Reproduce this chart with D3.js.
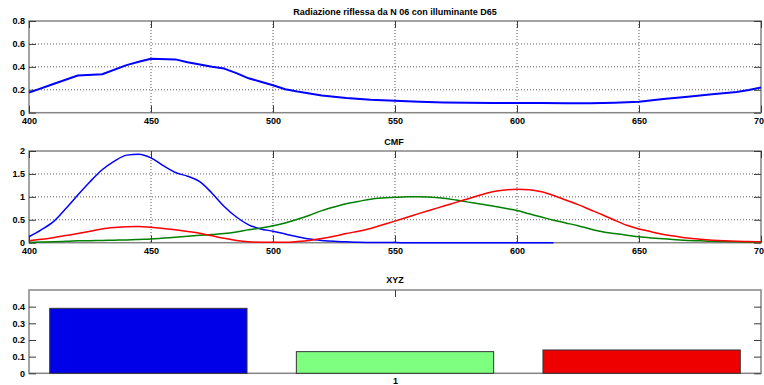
<!DOCTYPE html>
<html>
<head>
<meta charset="utf-8">
<script src="https://cdn.jsdelivr.net/npm/d3@7"></script>
<style>
  body { margin: 0; background: #fff; }
  svg { display: block; }
  text { font-family: "Liberation Sans", Arial, sans-serif; font-weight: bold; font-size: 9px; fill: #000; }
</style>
</head>
<body>
<svg id="chart" width="764" height="385"></svg>
<script>
// Reflected radiance of sample N 06 under D65
const reflWl  = [400, 410, 420, 430, 440, 445, 450, 460, 465, 470, 475, 480, 485, 490, 495, 500, 505, 510, 520, 530, 540, 550, 560, 570, 580, 590, 600, 610, 620, 630, 640, 650, 660, 670, 680, 690, 695, 700];
const reflVal = [0.175, 0.25, 0.325, 0.335, 0.415, 0.445, 0.47, 0.465, 0.44, 0.42, 0.40, 0.385, 0.345, 0.30, 0.27, 0.24, 0.205, 0.185, 0.15, 0.128, 0.114, 0.105, 0.096, 0.09, 0.087, 0.085, 0.085, 0.085, 0.082, 0.082, 0.087, 0.096, 0.12, 0.14, 0.16, 0.18, 0.198, 0.22];

// Colour matching functions
const cmfWl = [400, 405, 410, 415, 420, 425, 430, 435, 440, 445, 450, 455, 460, 465, 470, 475, 480, 485, 490, 495, 500, 505, 510, 515, 520, 525, 530, 535, 540, 545, 550, 555, 560, 565, 570, 575, 580, 585, 590, 595, 600, 605, 610, 615, 620, 625, 630, 635, 640, 645, 650, 655, 660, 665, 670, 675, 680, 685, 690, 695, 700];
const xBar = [0.045, 0.075, 0.11, 0.155, 0.20, 0.25, 0.30, 0.33, 0.35, 0.355, 0.335, 0.31, 0.28, 0.245, 0.205, 0.15, 0.095, 0.05, 0.02, 0.01, 0.01, 0.01, 0.025, 0.05, 0.09, 0.14, 0.20, 0.25, 0.31, 0.39, 0.47, 0.555, 0.64, 0.72, 0.80, 0.88, 0.96, 1.04, 1.11, 1.15, 1.165, 1.155, 1.11, 1.03, 0.93, 0.83, 0.72, 0.61, 0.49, 0.38, 0.30, 0.24, 0.18, 0.14, 0.10, 0.075, 0.055, 0.04, 0.03, 0.025, 0.02];
const yBar = [0.01, 0.015, 0.02, 0.03, 0.04, 0.045, 0.05, 0.055, 0.06, 0.07, 0.08, 0.10, 0.12, 0.14, 0.16, 0.18, 0.20, 0.235, 0.28, 0.32, 0.37, 0.43, 0.51, 0.60, 0.70, 0.78, 0.85, 0.90, 0.95, 0.975, 0.99, 1.0, 1.0, 0.99, 0.97, 0.93, 0.885, 0.845, 0.80, 0.75, 0.70, 0.63, 0.56, 0.49, 0.43, 0.37, 0.30, 0.24, 0.20, 0.165, 0.13, 0.105, 0.085, 0.065, 0.05, 0.04, 0.03, 0.025, 0.02, 0.015, 0.01];
const zBar = [0.13, 0.28, 0.46, 0.74, 1.04, 1.33, 1.59, 1.78, 1.91, 1.93, 1.85, 1.68, 1.53, 1.45, 1.33, 1.08, 0.79, 0.56, 0.39, 0.30, 0.25, 0.19, 0.13, 0.08, 0.05, 0.03, 0.02, 0.01, 0.005, 0.003, 0.002, 0.001, 0.001, 0.001, 0.001, 0.001, 0.001, 0.001, 0.001, 0.001, 0.001, 0.001, 0.001, 0.001];

// Tristimulus values
const xyzNames  = ["X", "Y", "Z"];
const xyzValues = [0.39, 0.13, 0.14];
const xyzColors = ["#0000e8", "#7fff7f", "#ee0000"];

const wlTicks = [400, 450, 500, 550, 600, 650, 700];
const reflTicks = [0, 0.2, 0.4, 0.6, 0.8];
const cmfTicks = [0, 0.5, 1, 1.5, 2];
const xyzTicks = [0, 0.1, 0.2, 0.3, 0.4];

const titles = ["Radiazione riflessa da N 06 con illuminante D65", "CMF", "XYZ"];

const svg = d3.select("#chart");
const L = 29, R = 761;
const fmt = d3.format("~g");
const frameColor = "#858585", tickColor = "#3a3a3a", gridColor = "#5a5a5a";

function panelFrame(g, x, y, yTicks, xTicks, grid) {
  const [y0, y1] = y.range();
  if (grid) {
    g.append("g").selectAll("line").data(xTicks.filter(t => t > x.domain()[0] && t < x.domain()[1]))
      .join("line").attr("x1", d => x(d)).attr("x2", d => x(d)).attr("y1", y1).attr("y2", y0)
      .attr("stroke", gridColor).attr("stroke-width", 1).attr("stroke-dasharray", "1,2");
    g.append("g").selectAll("line").data(yTicks.filter(t => t > y.domain()[0] && t < y.domain()[1]))
      .join("line").attr("x1", L).attr("x2", R).attr("y1", d => y(d)).attr("y2", d => y(d))
      .attr("stroke", gridColor).attr("stroke-width", 1).attr("stroke-dasharray", "1,2");
  }
  g.append("rect").attr("x", L).attr("y", y1).attr("width", R - L).attr("height", y0 - y1)
    .attr("fill", "none").attr("stroke", frameColor).attr("stroke-width", 1.5);

  const left = g.append("g").attr("transform", `translate(${L},0)`)
    .call(d3.axisLeft(y).tickValues(yTicks).tickSize(-7).tickPadding(4).tickFormat(fmt));
  const right = g.append("g").attr("transform", `translate(${R},0)`)
    .call(d3.axisRight(y).tickValues(yTicks).tickSize(-7).tickFormat(""));
  const bottom = g.append("g").attr("transform", `translate(0,${y0})`)
    .call(d3.axisBottom(x).tickValues(xTicks).tickSize(-7).tickPadding(4.5).tickFormat(fmt));
  const top = g.append("g").attr("transform", `translate(0,${y1})`)
    .call(d3.axisTop(x).tickValues(xTicks).tickSize(-7).tickFormat(""));
  [left, right, bottom, top].forEach(a => {
    a.select(".domain").remove();
    a.selectAll(".tick line").attr("stroke", tickColor).attr("stroke-width", 1);
    a.selectAll("text").attr("font-family", null).attr("font-size", null).attr("fill", "#000");
  });
}

// Panel 1: reflected radiance
const x1 = d3.scaleLinear().domain([400, 700]).range([L, R]);
const y1 = d3.scaleLinear().domain([0, 0.8]).range([112.7, 21]);
const g1 = svg.append("g");
panelFrame(g1, x1, y1, reflTicks, wlTicks, true);
g1.append("path")
  .datum(reflWl.map((w, i) => [w, reflVal[i]]))
  .attr("fill", "none").attr("stroke", "#0000ff").attr("stroke-width", 2)
  .attr("stroke-linejoin", "round")
  .attr("d", d3.line().x(d => x1(d[0])).y(d => y1(d[1])));
g1.append("text").attr("x", 395).attr("y", 14.5).attr("text-anchor", "middle").text(titles[0]);

// Panel 2: colour matching functions
const y2 = d3.scaleLinear().domain([0, 2]).range([242.7, 151]);
const g2 = svg.append("g");
panelFrame(g2, x1, y2, cmfTicks, wlTicks, true);
const cmfLine = d3.line().curve(d3.curveMonotoneX).x(d => x1(d[0])).y(d => y2(d[1]));
[[zBar, "#0000ff"], [yBar, "#008000"], [xBar, "#ff0000"]].forEach(([vals, col]) => {
  g2.append("path")
    .datum(vals.map((v, i) => [cmfWl[i], v]))
    .attr("fill", "none").attr("stroke", col).attr("stroke-width", 1.5)
    .attr("d", cmfLine);
});
g2.append("text").attr("x", 394).attr("y", 144.5).attr("text-anchor", "middle").text(titles[1]);

// Panel 3: XYZ bars (one group at x = 1)
const x3 = d3.scaleLinear().domain([0.5, 1.5]).range([L, R]);
const y3 = d3.scaleLinear().domain([0, 0.5]).range([373.3, 290]);
const band = d3.scaleBand().domain(xyzNames).range([L, R]).paddingInner(0.2).paddingOuter(0.084);
const g3 = svg.append("g");
panelFrame(g3, x3, y3, xyzTicks, [1], false);
g3.append("g").selectAll("rect").data(xyzNames)
  .join("rect")
  .attr("x", d => band(d)).attr("width", band.bandwidth())
  .attr("y", (d, i) => y3(xyzValues[i])).attr("height", (d, i) => y3(0) - y3(xyzValues[i]))
  .attr("fill", (d, i) => xyzColors[i]).attr("stroke", "#333").attr("stroke-width", 1);
g3.append("text").attr("x", 395).attr("y", 283).attr("text-anchor", "middle").text(titles[2]);
</script>
</body>
</html>
